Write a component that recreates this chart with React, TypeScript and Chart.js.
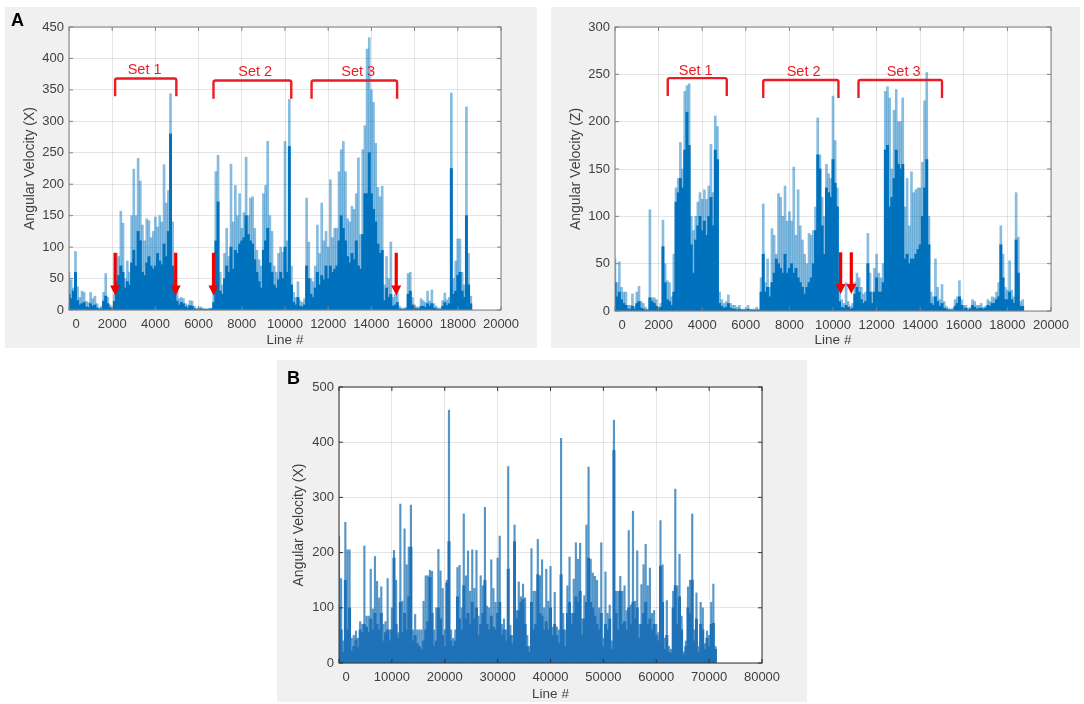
import { useEffect, useRef } from 'react';
import Chart from 'chart.js/auto';

const xPeaksA = [
    60, 48, 35, 93, 37, 20, 30, 28, 14, 12,
    28, 18, 22, 10, 4, 6, 28, 58, 20, 8,
    3, 25, 90, 85, 157, 138, 50, 78, 60, 150,
    224, 150, 241, 205, 135, 110, 145, 142, 115, 125,
    148, 132, 150, 140, 231, 170, 190, 344, 140, 60,
    30, 18, 20, 18, 10, 8, 15, 14, 6, 3,
    3, 5, 3, 2, 2, 3, 3, 30, 220, 246,
    60, 40, 90, 130, 85, 232, 140, 198, 150, 185,
    130, 155, 243, 150, 178, 180, 130, 95, 80, 70,
    185, 198, 268, 150, 125, 70, 60, 90, 100, 92,
    268, 110, 335, 70, 28, 20, 45, 15, 12, 18,
    178, 108, 50, 45, 70, 135, 90, 170, 110, 125,
    100, 207, 115, 130, 130, 220, 255, 268, 220, 145,
    140, 165, 160, 185, 242, 120, 255, 293, 415, 433,
    350, 330, 265, 195, 180, 197, 40, 85, 50, 108,
    20, 25, 30, 6, 3, 3, 4, 58, 60, 20,
    8, 5, 4, 18, 15, 12, 30, 14, 32, 10,
    6, 3, 3, 15, 27, 16, 20, 345, 50, 78,
    113, 113, 60, 40, 323, 90, 22,
];
const xCoreA = [
    25, 18, 30, 60, 15, 8, 10, 12, 5, 4,
    10, 6, 8, 3, 1, 2, 14, 22, 10, 4,
    1, 14, 45, 55, 70, 60, 35, 45, 40, 75,
    95, 70, 125, 110, 60, 55, 75, 85, 70, 65,
    70, 90, 78, 72, 105, 85, 125, 280, 70, 30,
    14, 8, 12, 10, 5, 3, 7, 6, 2, 1,
    1, 2, 1, 1, 1, 1, 2, 12, 110, 172,
    30, 25, 50, 70, 60, 100, 65, 95, 90, 105,
    110, 115, 150, 120, 110, 105, 80, 60, 45, 35,
    95, 110, 130, 75, 60, 40, 35, 48, 60, 50,
    100, 60, 260, 40, 12, 8, 20, 6, 5, 8,
    70, 50, 25, 20, 35, 60, 40, 55, 48, 70,
    50, 70, 60, 65, 70, 110, 150, 130, 110, 85,
    75, 90, 80, 110, 70, 65, 120, 185, 185, 250,
    185, 160, 140, 105, 90, 95, 15, 35, 20, 25,
    6, 8, 12, 2, 1, 1, 2, 25, 30, 8,
    3, 2, 2, 6, 6, 4, 10, 6, 10, 3,
    2, 1, 1, 6, 12, 7, 10, 225, 25, 30,
    55, 60, 30, 20, 150, 40, 10,
];

const zPeaksA = [
    55, 30, 52, 25, 20, 20, 6, 6, 18, 5,
    20, 26, 10, 8, 4, 2, 107, 14, 14, 12,
    4, 8, 96, 50, 32, 30, 15, 60, 130, 140,
    178, 150, 232, 238, 240, 100, 85, 100, 115, 125,
    118, 128, 118, 132, 176, 125, 206, 195, 20, 12,
    8, 10, 17, 8, 6, 6, 4, 6, 2, 2,
    2, 6, 2, 2, 2, 4, 2, 35, 113, 30,
    55, 25, 87, 80, 60, 124, 120, 100, 132, 95,
    105, 95, 152, 80, 128, 90, 75, 60, 50, 82,
    80, 85, 110, 204, 165, 120, 100, 155, 145, 140,
    227, 180, 130, 35, 12, 8, 30, 10, 5, 8,
    30, 40, 35, 25, 18, 20, 82, 40, 20, 45,
    60, 40, 35, 50, 232, 237, 225, 150, 212, 234,
    200, 200, 225, 110, 140, 90, 147, 125, 128, 130,
    130, 157, 222, 252, 100, 20, 15, 55, 25, 12,
    28, 10, 5, 3, 2, 3, 12, 15, 32, 12,
    6, 6, 3, 4, 12, 10, 6, 6, 8, 4,
    5, 12, 10, 15, 14, 20, 30, 90, 60, 25,
    22, 53, 22, 15, 125, 78, 10, 12,
];
const zCoreA = [
    30, 15, 20, 12, 8, 6, 2, 2, 5, 2,
    8, 10, 3, 2, 1, 1, 14, 10, 8, 5,
    2, 4, 68, 30, 12, 10, 6, 20, 115, 125,
    140, 130, 170, 210, 175, 70, 40, 75, 90, 100,
    85, 95, 80, 100, 120, 90, 170, 160, 8, 5,
    3, 4, 8, 3, 2, 2, 1, 2, 1, 1,
    1, 2, 1, 1, 1, 1, 1, 20, 60, 20,
    25, 15, 30, 40, 55, 50, 45, 40, 60, 40,
    45, 50, 40, 45, 35, 30, 25, 18, 25, 30,
    35, 50, 85, 165, 150, 90, 60, 130, 125, 120,
    160, 135, 110, 10, 4, 3, 6, 4, 2, 3,
    18, 25, 20, 12, 8, 10, 50, 20, 8, 20,
    35, 20, 20, 30, 170, 175, 110, 120, 140, 170,
    155, 150, 155, 55, 60, 50, 55, 55, 60, 65,
    70, 100, 130, 160, 70, 8, 6, 15, 10, 5,
    8, 3, 2, 1, 1, 1, 5, 8, 15, 6,
    3, 3, 1, 2, 6, 4, 2, 3, 3, 2,
    3, 6, 5, 8, 8, 12, 15, 70, 35, 12,
    12, 20, 12, 8, 75, 40, 5, 5,
];

const xPeaksB = [
    230, 153, 40, 255, 205, 205, 45, 50, 58, 45,
    75, 70, 212, 85, 85, 170, 98, 193, 148, 118,
    138, 70, 75, 153, 60, 100, 204, 150, 55, 288,
    112, 243, 178, 210, 286, 60, 88, 60, 60, 60,
    112, 158, 158, 168, 166, 60, 100, 206, 167, 135,
    60, 150, 458, 60, 45, 60, 173, 177, 100, 270,
    158, 203, 130, 205, 135, 204, 85, 158, 140, 282,
    103, 100, 187, 135, 110, 190, 230, 70, 80, 60,
    356, 68, 50, 250, 95, 147, 120, 143, 118, 50,
    30, 207, 130, 130, 224, 158, 187, 100, 170, 112,
    175, 65, 128, 65, 60, 407, 90, 60, 140, 192,
    90, 152, 218, 188, 217, 80, 122, 250, 355, 188,
    163, 157, 150, 100, 218, 45, 165, 90, 105, 40,
    440, 130, 130, 157, 130, 140, 95, 240, 105, 275,
    112, 203, 70, 142, 178, 215, 140, 172, 90, 95,
    70, 55, 258, 178, 45, 113, 30, 25, 130, 315,
    140, 197, 85, 20, 40, 138, 150, 270, 60, 127,
    30, 110, 100, 35, 58, 50, 110, 143, 30,
];
const xCoreB = [
    100, 60, 20, 150, 60, 100, 22, 30, 42, 28,
    60, 55, 70, 65, 55, 80, 60, 90, 70, 60,
    90, 40, 55, 60, 40, 60, 190, 70, 45, 110,
    55, 90, 60, 120, 210, 40, 50, 35, 30, 25,
    40, 60, 75, 155, 90, 30, 40, 100, 80, 50,
    30, 145, 220, 40, 30, 40, 120, 80, 60, 140,
    80, 90, 70, 110, 80, 100, 50, 70, 90, 150,
    70, 60, 85, 65, 60, 90, 110, 50, 60, 40,
    170, 50, 35, 220, 80, 95, 110, 115, 70, 30,
    20, 110, 60, 70, 160, 90, 85, 60, 75, 60,
    100, 50, 70, 50, 35, 160, 60, 30, 90, 110,
    70, 90, 120, 110, 130, 50, 80, 110, 190, 110,
    100, 85, 70, 60, 90, 30, 70, 60, 80, 25,
    385, 90, 60, 130, 70, 75, 60, 100, 70, 110,
    80, 100, 45, 70, 90, 110, 70, 80, 60, 70,
    50, 40, 175, 110, 25, 50, 20, 18, 100, 140,
    70, 120, 60, 15, 30, 100, 90, 150, 40, 80,
    20, 70, 60, 25, 45, 30, 70, 72, 25,
];

// red overlays from the figure, all in axis values
const setsX = [
    { label: 'Set 1', from: 2135, to: 4970, top: 368, foot: 340, textX: 3500, textY: 382 },
    { label: 'Set 2', from: 6690, to: 10290, top: 365, foot: 336, textX: 8620, textY: 378 },
    { label: 'Set 3', from: 11230, to: 15190, top: 365, foot: 336, textX: 13390, textY: 378 },
];
const setsZ = [
    { label: 'Set 1', from: 2420, to: 5127, top: 246, foot: 227, textX: 3700, textY: 254 },
    { label: 'Set 2', from: 6800, to: 10250, top: 244, foot: 225, textX: 8650, textY: 252 },
    { label: 'Set 3', from: 11170, to: 15000, top: 244, foot: 225, textX: 13240, textY: 252 },
];
const arrowLinesX = [2135, 4940, 6690, 15150];
const arrowLinesZ = [10350, 10840];

const RED = '#EC1C24';
const TEXT = '#404040';
const FONT = '"Liberation Sans", Arial, sans-serif';

interface Bracket {
    label: string; from: number; to: number; top: number; foot: number; textX: number; textY: number;
}

interface PanelProps {
    panel: [number, number, number, number];
    plot: [number, number, number, number];
    peaks: number[];
    core: number[];
    step: number;
    xMax: number;
    xStep: number;
    yMax: number;
    yStep: number;
    yTitle: string;
    peakWidth: number;
    peakColor: string;
    boxColor: string;
    coreColor: string;
    titleLeft: number;
    brackets?: Bracket[];
    arrows?: number[];
    arrowTop?: number;
    arrowTip?: number;
}

function VelocityPanel(props: PanelProps) {
    const canvasRef = useRef<HTMLCanvasElement>(null);
    const { panel, plot } = props;

    useEffect(() => {
        if (!canvasRef.current) return;

        const overlay = {
            id: 'overlay',
            beforeDatasetsDraw(chart: any) {
                const { ctx, chartArea: a } = chart;
                ctx.save();
                ctx.globalCompositeOperation = 'destination-over';
                ctx.fillStyle = '#fff';
                ctx.fillRect(a.left, a.top, a.width, a.height);
                ctx.restore();
            },
            afterDatasetsDraw(chart: any) {
                const { ctx, chartArea: a, scales } = chart;
                ctx.save();
                ctx.strokeStyle = props.boxColor;
                ctx.lineWidth = 1;
                ctx.strokeRect(a.left, a.top, a.width, a.height);
                ctx.beginPath();
                scales.x.ticks.forEach((t: any) => {
                    const px = scales.x.getPixelForValue(t.value);
                    ctx.moveTo(px, a.top);
                    ctx.lineTo(px, a.top + 4);
                    ctx.moveTo(px, a.bottom);
                    ctx.lineTo(px, a.bottom - 4);
                });
                scales.y.ticks.forEach((t: any) => {
                    const py = scales.y.getPixelForValue(t.value);
                    ctx.moveTo(a.left, py);
                    ctx.lineTo(a.left + 4, py);
                    ctx.moveTo(a.right, py);
                    ctx.lineTo(a.right - 4, py);
                });
                ctx.stroke();

                ctx.strokeStyle = RED;
                ctx.fillStyle = RED;
                ctx.font = `14.5px ${FONT}`;
                ctx.textAlign = 'center';
                ctx.textBaseline = 'middle';
                (props.brackets || []).forEach(b => {
                    const x0 = scales.x.getPixelForValue(b.from);
                    const x1 = scales.x.getPixelForValue(b.to);
                    const top = scales.y.getPixelForValue(b.top);
                    const foot = scales.y.getPixelForValue(b.foot);
                    ctx.lineWidth = 2.4;
                    ctx.beginPath();
                    ctx.moveTo(x0, foot);
                    ctx.lineTo(x0, top + 2);
                    ctx.quadraticCurveTo(x0, top, x0 + 2, top);
                    ctx.lineTo(x1 - 2, top);
                    ctx.quadraticCurveTo(x1, top, x1, top + 2);
                    ctx.lineTo(x1, foot);
                    ctx.stroke();
                    ctx.fillText(b.label, scales.x.getPixelForValue(b.textX), scales.y.getPixelForValue(b.textY));
                });
                (props.arrows || []).forEach(v => {
                    const px = scales.x.getPixelForValue(v);
                    const y0 = scales.y.getPixelForValue(props.arrowTop);
                    const y1 = scales.y.getPixelForValue(props.arrowTip);
                    ctx.strokeStyle = '#F00000';
                    ctx.fillStyle = '#F00000';
                    ctx.lineWidth = 3.2;
                    ctx.beginPath();
                    ctx.moveTo(px, y0);
                    ctx.lineTo(px, y1 - 8);
                    ctx.stroke();
                    ctx.beginPath();
                    ctx.moveTo(px - 5, y1 - 10);
                    ctx.lineTo(px + 5, y1 - 10);
                    ctx.lineTo(px, y1);
                    ctx.closePath();
                    ctx.fill();
                });
                ctx.restore();
            },
        };

        const chart = new Chart(canvasRef.current, {
            type: 'bar',
            data: {
                datasets: [
                    {
                        data: props.core.map((y, i) => ({ x: i * props.step, y })),
                        backgroundColor: props.coreColor,
                        barThickness: 2.3,
                        grouped: false,
                        order: 1,
                    },
                    {
                        data: props.peaks.map((y, i) => ({ x: i * props.step, y })),
                        backgroundColor: props.peakColor,
                        barThickness: props.peakWidth,
                        grouped: false,
                        order: 2,
                    },
                ],
            },
            plugins: [overlay],
            options: {
                responsive: false,
                animation: false,
                layout: {
                    padding: {
                        top: plot[1] - panel[1],
                        right: panel[0] + panel[2] - plot[0] - plot[2],
                        left: 0,
                        bottom: 0,
                    },
                },
                plugins: { legend: { display: false }, tooltip: { enabled: false } },
                scales: {
                    x: {
                        type: 'linear',
                        offset: false,
                        min: 0,
                        max: props.xMax,
                        grid: { color: 'rgba(0,0,0,0.1)', drawTicks: false, offset: false },
                        border: { display: false },
                        ticks: {
                            stepSize: props.xStep,
                            color: TEXT,
                            padding: 7,
                            maxRotation: 0,
                            autoSkip: false,
                            font: { family: FONT, size: 13 },
                            // the figure nudges its 0 away from the y axis labels
                            callback: (v: any) => (v === 0 ? '    0' : String(v)),
                        },
                        title: {
                            display: true,
                            text: 'Line #',
                            color: TEXT,
                            font: { family: FONT, size: 13.5 },
                            padding: 0,
                        },
                        afterFit: (axis: any) => {
                            axis.height = panel[1] + panel[3] - plot[1] - plot[3];
                        },
                    },
                    y: {
                        min: 0,
                        max: props.yMax,
                        grid: { color: 'rgba(0,0,0,0.1)', drawTicks: false },
                        border: { display: false },
                        ticks: {
                            stepSize: props.yStep,
                            color: TEXT,
                            padding: 5,
                            font: { family: FONT, size: 13 },
                        },
                        title: {
                            display: true,
                            text: props.yTitle,
                            color: TEXT,
                            font: { family: FONT, size: 14 },
                            padding: { top: props.titleLeft, bottom: 0 },
                        },
                        afterFit: (axis: any) => {
                            axis.width = plot[0] - panel[0];
                        },
                    },
                },
            },
        } as any);

        return () => chart.destroy();
    }, []);

    return (
        <canvas
            ref={canvasRef}
            width={panel[2]}
            height={panel[3]}
            style={{ position: 'absolute', left: panel[0], top: panel[1], background: '#f0f0f0' }}
        />
    );
}

const letterStyle = {
    position: 'absolute' as const,
    font: `bold 18px ${FONT}`,
    color: '#000',
};

export default function App() {
    return (
        <div style={{ position: 'absolute', left: 0, top: 0, width: 1084, height: 704, background: '#fff', overflow: 'hidden' }}>
            <VelocityPanel
                panel={[5, 7, 532, 341]}
                plot={[69, 27, 432, 283]}
                peaks={xPeaksA}
                core={xCoreA}
                step={100}
                xMax={20000}
                xStep={2000}
                yMax={450}
                yStep={50}
                yTitle="Angular Velocity (X)"
                peakWidth={2}
                peakColor="rgba(0, 114, 189, 0.48)"
                boxColor="#808080"
                coreColor="#0072BD"
                titleLeft={17}
                brackets={setsX}
                arrows={arrowLinesX}
                arrowTop={91}
                arrowTip={23}
            />
            <VelocityPanel
                panel={[551, 7, 529, 341]}
                plot={[615, 27, 436, 284]}
                peaks={zPeaksA}
                core={zCoreA}
                step={100}
                xMax={20000}
                xStep={2000}
                yMax={300}
                yStep={50}
                yTitle="Angular Velocity (Z)"
                peakWidth={2}
                peakColor="rgba(0, 114, 189, 0.48)"
                boxColor="#808080"
                coreColor="#0072BD"
                titleLeft={17}
                brackets={setsZ}
                arrows={arrowLinesZ}
                arrowTop={62}
                arrowTip={18}
            />
            <VelocityPanel
                panel={[277, 360, 530, 342]}
                plot={[339, 387, 423, 276]}
                peaks={xPeaksB}
                core={xCoreB}
                step={400}
                xMax={80000}
                xStep={10000}
                yMax={500}
                yStep={100}
                yTitle="Angular Velocity (X)"
                peakWidth={1.5}
                peakColor="rgba(20, 110, 180, 0.72)"
                boxColor="#333"
                coreColor="#1F72B8"
                titleLeft={14}
            />
            <div style={{ ...letterStyle, left: 11, top: 10 }}>A</div>
            <div style={{ ...letterStyle, left: 287, top: 368 }}>B</div>
        </div>
    );
}
